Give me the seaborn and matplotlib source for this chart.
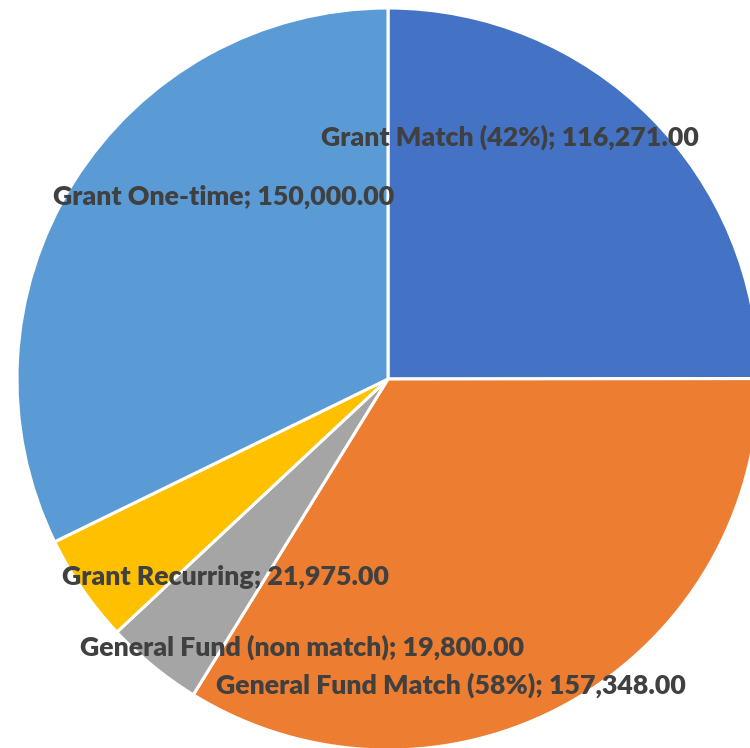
import matplotlib
matplotlib.use("Agg")
import matplotlib.pyplot as plt
import seaborn as sns

# funding sources, clockwise from 12 o'clock
sources = ["Grant Match (42%)", "General Fund Match (58%)", "General Fund (non match)",
           "Grant Recurring", "Grant One-time"]
amounts = [116271.00, 157348.00, 19800.00, 21975.00, 150000.00]
colors = ["#4472C4", "#ED7D31", "#A5A5A5", "#FFC000", "#5B9BD5"]

# label centres in pixels (Excel "best fit" placement)
label_px = [(510, 137), (451, 685), (302, 647), (225, 577), (224, 197)]

sns.set_theme(style="white")
plt.rcParams["font.family"] = ["Lato", "DejaVu Sans"]

W, H = 750, 748
cx, cy, rad = 388, 379, 371  # pie centre / radius in pixels

fig = plt.figure(figsize=(W / 100, H / 100), dpi=100)
ax = fig.add_axes([0, 0, 1, 1])
ax.pie(amounts, colors=sns.color_palette(colors), startangle=90, counterclock=False,
       radius=1, wedgeprops=dict(edgecolor="white", linewidth=2.2))
ax.set_xlim(-cx / rad, (W - cx) / rad)
ax.set_ylim(-(H - cy) / rad, cy / rad)
ax.set_aspect("auto")
ax.axis("off")

for name, val, (px, py) in zip(sources, amounts, label_px):
    ax.text((px - cx) / rad, (cy - py) / rad, f"{name}; {val:,.2f}",
            ha="center", va="center", fontsize=19.3, fontweight="heavy", color="#404040")

fig.savefig("out.png", dpi=100)
